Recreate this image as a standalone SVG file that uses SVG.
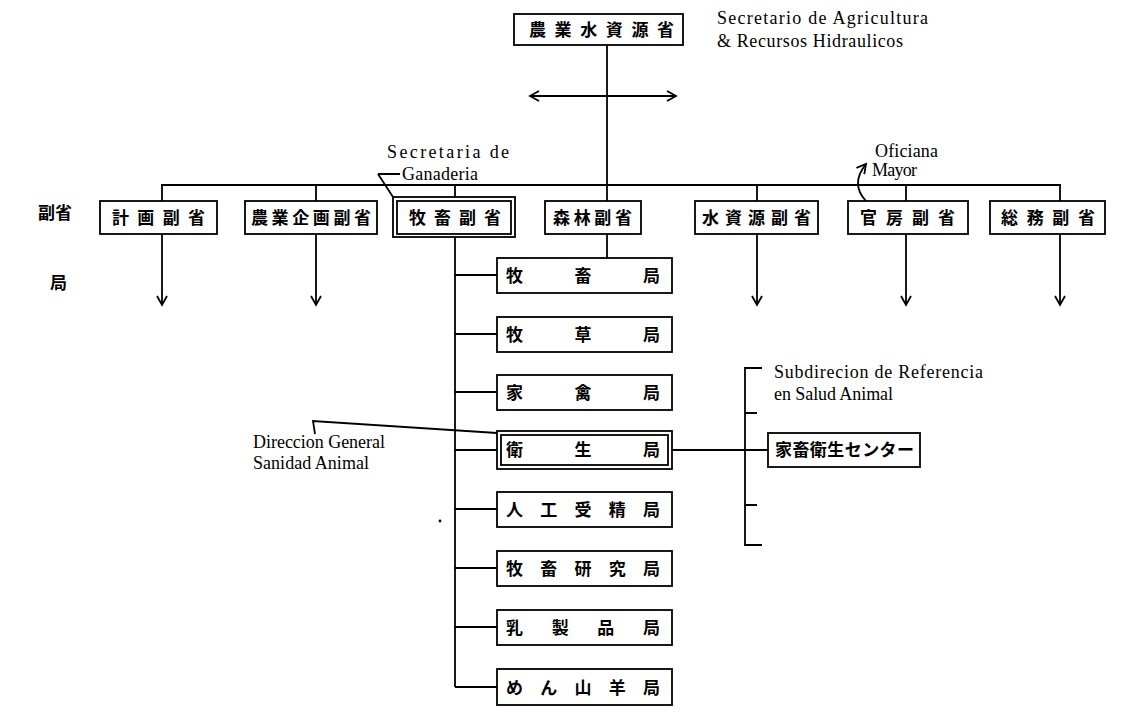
<svg xmlns="http://www.w3.org/2000/svg" width="1121" height="728" viewBox="0 0 1121 728">
<defs>
<marker id="v" viewBox="-11 -7 13 14" markerWidth="13" markerHeight="14" refX="0" refY="0" orient="auto-start-reverse" markerUnits="userSpaceOnUse">
<path d="M-9,-5 L0,0 L-9,5" fill="none" stroke="#000" stroke-width="1.8"/>
</marker>
<style>
.b{fill:#fff;stroke:#000;stroke-width:1.8}
.l{fill:none;stroke:#000;stroke-width:1.8}
.j{font-family:"Noto Sans CJK JP","Noto Sans CJK SC",sans-serif;font-size:17px;font-weight:700;fill:#000}
.s{font-family:"Liberation Serif",serif;font-size:18px;fill:#000}
</style>
</defs>
<rect width="1121" height="728" fill="#fff"/>

<g id="connectors">
<path class="l" d="M607,45 V201"/>
<path class="l" d="M530,96 H676" marker-start="url(#v)" marker-end="url(#v)"/>
<path class="l" d="M161,185 H1061"/>
<path class="l" d="M162,185 V201 M316,185 V201 M455,185 V197 M757,185 V201 M906,185 V201 M1060,185 V201"/>
<path class="l" d="M162,234 V305" marker-end="url(#v)"/>
<path class="l" d="M316,234 V305" marker-end="url(#v)"/>
<path class="l" d="M757,234 V305" marker-end="url(#v)"/>
<path class="l" d="M906,234 V305" marker-end="url(#v)"/>
<path class="l" d="M1060,234 V305" marker-end="url(#v)"/>
<path class="l" d="M607,234 V258"/>
<path class="l" d="M455,237 V687"/>
<path class="l" d="M455,275 H497 M455,334 H497 M455,392 H497 M455,450 H497 M455,509 H497 M455,568 H497 M455,627 H497 M455,687 H497"/>
<path class="l" d="M672,450 H768"/>
<path class="l" d="M762,368 H745 V545 H762 M745,413 H757 M745,505 H757"/>
<path class="l" d="M378,174 H400 M378,174 L393,197"/>
<path class="l" d="M866,201 Q850,184 866,164" marker-end="url(#v)"/>
<path class="l" d="M315,434 L313,421 L497,433"/>
<circle cx="440" cy="521" r="1.4" fill="#000"/>
</g>

<g id="n_top">
<rect class="b" x="514" y="14" width="169" height="31"/>
<text class="j" x="529" y="36" textLength="145" lengthAdjust="spacing">農業水資源省</text>
</g>
<g id="lbl_secretario">
<text class="s" x="717" y="24" textLength="211" lengthAdjust="spacing">Secretario de Agricultura</text>
<text class="s" x="717" y="47" textLength="186" lengthAdjust="spacing">&amp; Recursos Hidraulicos</text>
</g>
<g id="lbl_ganaderia">
<text class="s" x="387" y="158" textLength="122" lengthAdjust="spacing">Secretaria de</text>
<text class="s" x="402" y="180" textLength="76" lengthAdjust="spacing">Ganaderia</text>
</g>
<g id="lbl_oficiana">
<text class="s" x="875" y="157" textLength="63" lengthAdjust="spacing">Oficiana</text>
<text class="s" x="872" y="176" textLength="45" lengthAdjust="spacing">Mayor</text>
</g>
<g id="lbl_side">
<text class="j" x="38" y="219" textLength="34" lengthAdjust="spacing">副省</text>
<text class="j" x="50" y="289">局</text>
</g>

<g id="n_keikaku">
<rect class="b" x="100" y="201" width="117" height="33"/>
<text class="j" x="112" y="224" textLength="93" lengthAdjust="spacing">計画副省</text>
</g>
<g id="n_nogyokikaku">
<rect class="b" x="245" y="201" width="132" height="33"/>
<text class="j" x="251" y="224" textLength="120" lengthAdjust="spacing">農業企画副省</text>
</g>
<g id="n_bochiku">
<rect class="b" x="393" y="197" width="122" height="40"/>
<rect class="b" x="397" y="201" width="114" height="33"/>
<text class="j" x="409" y="224" textLength="92" lengthAdjust="spacing">牧畜副省</text>
</g>
<g id="n_shinrin">
<rect class="b" x="545" y="201" width="96" height="33"/>
<text class="j" x="553" y="224" textLength="79" lengthAdjust="spacing">森林副省</text>
</g>
<g id="n_suishigen">
<rect class="b" x="695" y="201" width="123" height="33"/>
<text class="j" x="702" y="224" textLength="109" lengthAdjust="spacing">水資源副省</text>
</g>
<g id="n_kanbo">
<rect class="b" x="848" y="201" width="120" height="33"/>
<text class="j" x="860" y="224" textLength="95" lengthAdjust="spacing">官房副省</text>
</g>
<g id="n_somu">
<rect class="b" x="990" y="201" width="115" height="33"/>
<text class="j" x="1001" y="224" textLength="94" lengthAdjust="spacing">総務副省</text>
</g>

<g id="b1">
<rect class="b" x="497" y="258" width="175" height="35"/>
<text class="j" x="506" y="282" textLength="154" lengthAdjust="spacing">牧畜局</text>
</g>
<g id="b2">
<rect class="b" x="497" y="317" width="175" height="35"/>
<text class="j" x="506" y="341" textLength="154" lengthAdjust="spacing">牧草局</text>
</g>
<g id="b3">
<rect class="b" x="497" y="375" width="175" height="35"/>
<text class="j" x="506" y="399" textLength="154" lengthAdjust="spacing">家禽局</text>
</g>
<g id="b4">
<rect class="b" x="497" y="431" width="175" height="38"/>
<rect class="b" x="501" y="435" width="167" height="30"/>
<text class="j" x="506" y="456" textLength="154" lengthAdjust="spacing">衛生局</text>
</g>
<g id="b5">
<rect class="b" x="497" y="492" width="175" height="35"/>
<text class="j" x="506" y="516" textLength="154" lengthAdjust="spacing">人工受精局</text>
</g>
<g id="b6">
<rect class="b" x="497" y="551" width="175" height="35"/>
<text class="j" x="506" y="575" textLength="154" lengthAdjust="spacing">牧畜研究局</text>
</g>
<g id="b7">
<rect class="b" x="497" y="610" width="175" height="35"/>
<text class="j" x="506" y="634" textLength="154" lengthAdjust="spacing">乳製品局</text>
</g>
<g id="b8">
<rect class="b" x="497" y="669" width="175" height="36"/>
<text class="j" x="506" y="694" textLength="154" lengthAdjust="spacing">めん山羊局</text>
</g>

<g id="n_center">
<rect class="b" x="768" y="433" width="152" height="34"/>
<text class="j" x="775" y="456" textLength="139" lengthAdjust="spacing">家畜衛生センター</text>
</g>
<g id="lbl_direccion">
<text class="s" x="253" y="448" textLength="132" lengthAdjust="spacing">Direccion General</text>
<text class="s" x="253" y="469" textLength="116" lengthAdjust="spacing">Sanidad Animal</text>
</g>
<g id="lbl_subdireccion">
<text class="s" x="774" y="378" textLength="209" lengthAdjust="spacing">Subdirecion de Referencia</text>
<text class="s" x="774" y="400" textLength="119" lengthAdjust="spacing">en Salud Animal</text>
</g>
</svg>
